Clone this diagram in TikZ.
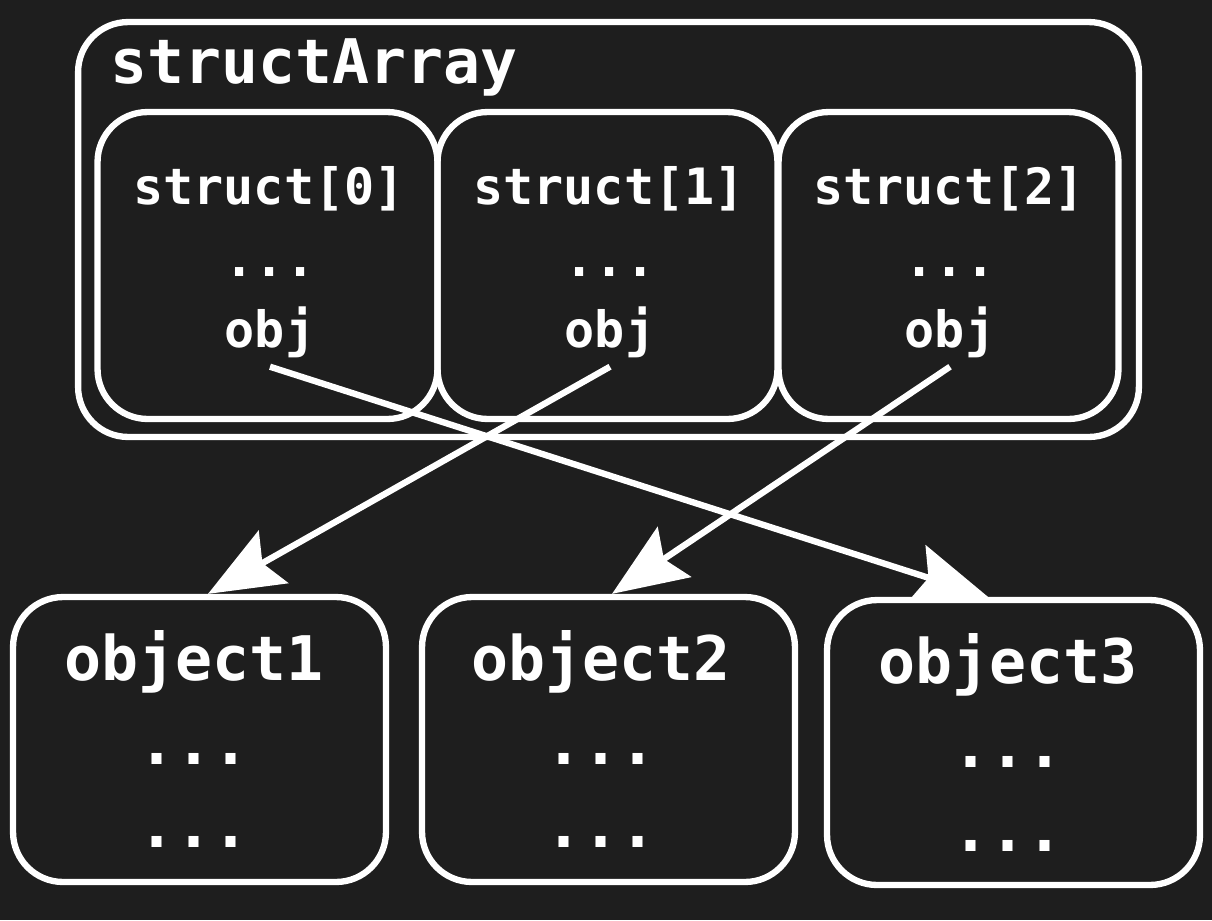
\documentclass[tikz,border=0pt]{standalone}
\usepackage{fontspec}
\newfontfamily\codefont{DejaVu Sans Mono}
\usetikzlibrary{arrows.meta, positioning}
\definecolor{bgdark}{HTML}{1E1E1E}
\definecolor{inkwhite}{HTML}{FFFFFF}
\tikzset{
  caja/.style={draw=inkwhite, line width=3.6pt, rounded corners=1cm, inner sep=0pt},
  titulo/.style={text=inkwhite, font=\codefont\bfseries\fontsize{35}{42}\selectfont, inner sep=0pt, anchor=base},
  campo/.style={text=inkwhite, font=\codefont\bfseries\fontsize{28.5}{34}\selectfont, inner sep=0pt, anchor=base},
  puntero/.style={campo, inner ysep=0.18cm},
  enlace/.style={draw=inkwhite, line width=3.6pt, -{Stealth[length=1.5cm, width=1.2cm, inset=0.25cm]}},
}
\begin{document}
\begin{tikzpicture}[x=0.02cm, y=-0.02cm]
  % Fondo
  \fill[bgdark] (0,0) rectangle (1212,920);
  % Arreglo de structs
  \node[caja, minimum width=21.22cm, minimum height=8.3cm] (arr) at (608.5,229.5) {};
  \node[titulo, anchor=base west] (tArr) at (110,83) {structArray};
  \node[caja, minimum width=6.8cm, minimum height=6.14cm] (s0) at (267.5,265.5) {};
  \node[caja, minimum width=6.8cm, minimum height=6.14cm] (s1) at (607.5,265.5) {};
  \node[caja, minimum width=6.8cm, minimum height=6.14cm] (s2) at (948.5,265.5) {};
  % Campos de cada struct
  \node[campo] (t0) at (269,204) {struct[0]};
  \node[campo] (d0) at (270,276) {...};
  \node[puntero] (o0) at (270,347) {obj};
  \node[campo] (t1) at (609,204) {struct[1]};
  \node[campo] (d1) at (610,276) {...};
  \node[puntero] (o1) at (610,347) {obj};
  \node[campo] (t2) at (949,204) {struct[2]};
  \node[campo] (d2) at (950,276) {...};
  \node[puntero] (o2) at (950,347) {obj};
  % Objetos
  \node[caja, minimum width=7.46cm, minimum height=5.7cm] (obj1) at (199.5,739.5) {};
  \node[caja, minimum width=7.46cm, minimum height=5.7cm] (obj2) at (608.5,739.5) {};
  \node[caja, minimum width=7.46cm, minimum height=5.7cm] (obj3) at (1013.5,742.5) {};
  \node[titulo] (n1) at (194,680) {object1};
  \node[titulo] (n1a) at (194,764) {...};
  \node[titulo] (n1b) at (194,847) {...};
  \node[titulo] (n2) at (601,680) {object2};
  \node[titulo] (n2a) at (601,764) {...};
  \node[titulo] (n2b) at (601,847) {...};
  \node[titulo] (n3) at (1008,683) {object3};
  \node[titulo] (n3a) at (1008,767) {...};
  \node[titulo] (n3b) at (1008,851) {...};
  % Referencias
  \draw[enlace] (o0.south) -- ([xshift=-0.51cm]obj3.north);
  \draw[enlace] (o1.south) -- ([xshift=0.17cm]obj1.north);
  \draw[enlace] (o2.south) -- ([xshift=0.07cm]obj2.north);
\end{tikzpicture}
\end{document}
